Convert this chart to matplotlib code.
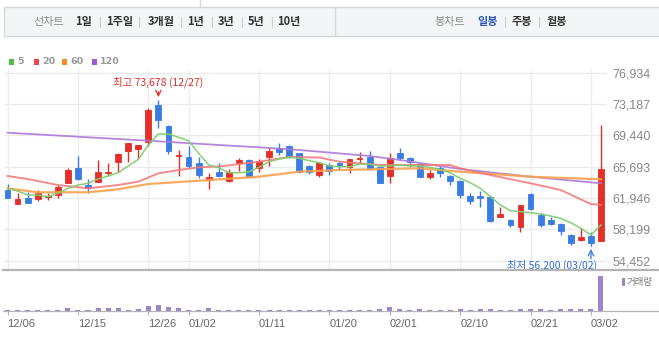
import matplotlib.pyplot as plt
from matplotlib.lines import Line2D
from matplotlib.patches import Rectangle

W, H = 659, 344

plt.rcParams.update({
    "font.family": ["Noto Sans CJK KR", "DejaVu Sans"],
    "axes.linewidth": 0,
})

RED = "#e22f27"
BLUE = "#3a7de0"
GRID = "#ececec"
MA_COLORS = {"5": "#7fcd70", "20": "#f27878", "60": "#f7a250", "120": "#ad7ad9"}
LEGEND_COLORS = {"5": "#4cbf45", "20": "#ea4848", "60": "#f28a1e", "120": "#9d5bd2"}
VOL_COLOR = "#9b86cc"

tick_idx = [0, 7, 14, 18, 25, 32, 38, 45, 52, 58]
tick_labels = ["12/06", "12/15", "12/26", "01/02", "01/11", "01/20",
               "02/01", "02/10", "02/21", "03/02"]
price_ticks = [54452, 58199, 61946, 65693, 69440, 73187, 76934]

opens = [62916, 61290, 61996, 61840, 62070, 62317, 63790, 65505, 63514, 63908,
         65000, 66225, 67577, 67816, 68688, 73074, 70564, 67000, 66823, 66107,
         64111, 65107, 64027, 66104, 66502, 65505, 66900, 67900, 68175, 67300,
         65784, 64708, 65900, 66180, 65700, 66620, 66900, 65628, 64590, 67380,
         66780, 66023, 64433, 65510, 64590, 64027, 62200, 62200, 62118, 59728,
         59331, 58530, 62437, 59927, 59331, 58853, 57540, 56941, 57420, 56860]
highs = [63598, 62600, 62714, 62916, 62590, 63514, 65505, 66980, 64230, 66502,
         66200, 67300, 68497, 68294, 72680, 73678, 70683, 67697, 68175, 66900,
         64900, 66180, 65390, 66700, 66580, 66580, 67900, 68497, 68294, 67380,
         65900, 66230, 66100, 66260, 66580, 67500, 67617, 65700, 67300, 67900,
         66900, 66100, 65306, 65784, 64710, 64111, 62590, 62836, 62317, 60920,
         59410, 61120, 62520, 60130, 59730, 59012, 57660, 58340, 57930, 70672]
lows = [61920, 61290, 61320, 61636, 61720, 61996, 63720, 64110, 62520, 63908,
        64590, 65100, 66300, 66585, 68175, 70290, 67218, 64625, 65505, 64316,
        62996, 64510, 63870, 65180, 64440, 65100, 65784, 67100, 66700, 64900,
        64790, 64510, 64708, 65306, 64900, 66100, 65306, 63720, 63790, 66500,
        65628, 64433, 64190, 64500, 63514, 61920, 61290, 60920, 59130, 59650,
        58530, 57930, 60526, 58530, 58733, 57540, 56340, 56860, 56200, 56860]
closes = [61996, 61845, 61398, 62520, 62190, 63237, 65306, 64230, 63114, 65067,
          65050, 67180, 68497, 68294, 72476, 71281, 67612, 67080, 65784, 64708,
          64430, 64590, 65027, 66502, 64510, 66420, 67618, 67492, 66823, 65107,
          65107, 66107, 65186, 65784, 66580, 66780, 65390, 63790, 66700, 66700,
          66300, 64433, 64910, 64910, 64027, 62317, 61636, 61920, 59250, 60000,
          58733, 61120, 60610, 58733, 58853, 58056, 56540, 57340, 56540, 65386]
volumes = [120, 120, 120, 120, 120, 120, 240, 120, 120, 240,
           240, 240, 120, 200, 400, 480, 320, 240, 120, 120,
           240, 120, 120, 120, 120, 120, 120, 120, 120, 120,
           120, 120, 120, 120, 120, 120, 120, 200, 320, 200,
           120, 200, 120, 120, 120, 200, 120, 200, 200, 120,
           120, 200, 200, 200, 120, 200, 200, 200, 200, 2800]

ma5 = [63120, 62797, 62319, 62319, 62116, 62522, 63120, 63514, 63717, 64231,
       64590, 64984, 65785, 66585, 68294, 69609, 69609, 69214, 68808, 67302,
       65904, 65581, 64984, 64984, 65103, 65629, 66298, 66621, 66824, 66705,
       66418, 66179, 65785, 65701, 65701, 66024, 66024, 65785, 65785, 65904,
       65785, 65785, 65629, 65390, 64984, 64315, 63789, 63120, 62116, 61124,
       60443, 60324, 60204, 60049, 59810, 59535, 59009, 58340, 57539, 58734]
ma20_idx = [0, 2, 5, 8, 11, 13, 15, 17, 19, 21, 25, 28, 31, 33, 37, 41, 44, 45,
            48, 52, 55, 58, 59]
ma20 = [64590, 64231, 63514, 63120, 63514, 63908, 64912, 65307, 65629, 65725,
        66298, 66860, 66800, 66298, 65904, 65904, 65904, 65510, 64709, 63717,
        62916, 61244, 61124]
ma60_idx = [0, 3, 8, 11, 14, 19, 25, 29, 33, 41, 45, 52, 59]
ma60 = [63120, 62642, 62642, 63000, 63634, 64028, 64506, 65103, 65307, 65510,
        65103, 64506, 64195]
ma120_idx = [0, 7, 14, 21, 25, 29, 36, 39, 45, 52, 59]
ma120 = [69764, 69286, 68808, 68294, 68019, 67697, 66980, 66502, 65426, 64506,
         63717]


def fx(x):
    return x / W


def fy(y):
    return 1 - y / H


fig = plt.figure(figsize=(W / 100, H / 100), dpi=100)

# header bar
fig.add_artist(Rectangle((fx(4), fy(36)), fx(W - 3.5), (36 - 7) / H,
                         transform=fig.transFigure, facecolor="#f4f5f7",
                         edgecolor="#d6d8db", linewidth=1))
fig.add_artist(Line2D([fx(335), fx(335)], [fy(8), fy(36)], color="#d6d8db", lw=1))
fig.add_artist(Line2D([fx(200), fx(200)], [fy(0), fy(7)], color="#d6d8db", lw=1))

header_left = [("선차트", 49, "#8a8a8a", "normal"), ("1일", 84, "#333333", "bold"),
               ("1주일", 120, "#333333", "bold"), ("3개월", 161, "#333333", "bold"),
               ("1년", 196, "#333333", "bold"), ("3년", 226, "#333333", "bold"),
               ("5년", 256, "#333333", "bold"), ("10년", 289, "#333333", "bold")]
header_right = [("봉차트", 450, "#8a8a8a", "normal"), ("일봉", 488, "#2e58b8", "bold"),
                ("주봉", 522, "#333333", "bold"), ("월봉", 557, "#333333", "bold")]
for label, x, color, weight in header_left + header_right:
    fig.text(fx(x), fy(22), label, ha="center", va="center", fontsize=8,
             color=color, fontweight=weight)
for x in [100, 139, 181, 212, 242, 272, 505, 539]:
    fig.add_artist(Line2D([fx(x), fx(x)], [fy(17), fy(27)], color="#d0d0d0", lw=0.8))

# MA legend
legend_x = {"5": 9, "20": 34, "60": 62, "120": 92}
for name, x in legend_x.items():
    fig.add_artist(Rectangle((fx(x), fy(64.5)), 5 / W, 5 / H, transform=fig.transFigure,
                             facecolor=LEGEND_COLORS[name], edgecolor="none"))
    fig.text(fx(x + 8), fy(62), name, ha="left", va="center", fontsize=6.8,
             color="#999999", fontweight="bold", family="DejaVu Sans")

# price pane
ax = fig.add_axes([fx(4), fy(270), fx(607 - 4), (270 - 70) / H])
ax.set_xlim(-0.35, 59.6)
ax.set_ylim(53357, 77257)
ax.set_xticks(tick_idx)
ax.set_yticks(price_ticks)
ax.set_yticklabels([f"{v:,}" for v in price_ticks], family="Liberation Sans",
                   fontsize=9, color="#888888")
ax.yaxis.tick_right()
ax.tick_params(axis="y", length=0, pad=4)
ax.tick_params(axis="x", length=0, labelbottom=False)
ax.grid(True, color=GRID, linewidth=1)
ax.set_axisbelow(True)

for i, (o, h, l, c) in enumerate(zip(opens, highs, lows, closes)):
    color = RED if c >= o else BLUE
    ax.vlines(i, l, h, color=color, linewidth=1, zorder=2)
    ax.bar(i, abs(c - o), bottom=min(o, c), width=0.58, color=color,
           edgecolor=color, linewidth=0.6, zorder=3)

ax.plot(ma120_idx, ma120, color=MA_COLORS["120"], lw=1.3, alpha=0.9, zorder=4)
ax.plot(ma60_idx, ma60, color=MA_COLORS["60"], lw=1.6, alpha=0.9, zorder=4)
ax.plot(ma20_idx, ma20, color=MA_COLORS["20"], lw=1.4, alpha=0.85, zorder=4)
ax.plot(range(len(ma5)), ma5, color=MA_COLORS["5"], lw=1.1, alpha=0.95, zorder=5)

hi = highs.index(max(highs[:59]))
lo = lows.index(min(lows))
ax.annotate("", xy=(hi, highs[hi]), xytext=(0, 6), textcoords="offset points",
            xycoords="data", arrowprops=dict(arrowstyle="->", color=RED, lw=0.9,
                                             shrinkA=0, shrinkB=2))
ax.annotate(f"최고 {highs[hi]:,} (12/27)", xy=(hi, highs[hi]), xytext=(0, 12.5),
            textcoords="offset points", ha="center", va="center",
            fontsize=7.5, color=RED)
ax.annotate("", xy=(lo, lows[lo]), xytext=(0, -9), textcoords="offset points",
            arrowprops=dict(arrowstyle="->", color=BLUE, lw=0.9, shrinkA=0, shrinkB=2))
ax.annotate(f"최저 {lows[lo]:,} (03/02)", xy=(lo, lows[lo]), xytext=(4.5, -13.5),
            textcoords="offset points", ha="right", va="center",
            fontsize=7.5, color="#2f6fd6")

# volume pane
vax = fig.add_axes([fx(4), fy(311), fx(607 - 4), (311 - 272) / H])
vax.set_xlim(-0.35, 59.6)
vax.set_ylim(0, 3120)
vax.bar(range(len(volumes)), volumes, width=0.5, color=VOL_COLOR, zorder=3)
vax.set_yticks([])
vax.set_xticks(tick_idx)
vax.set_xticklabels(tick_labels, family="Liberation Sans", fontsize=8,
                    color="#666666", ha="left")
vax.tick_params(axis="x", direction="out", length=3, width=0.8, color="#b0b0b0",
                pad=3)
vax.patch.set_alpha(0)

fig.add_artist(Line2D([fx(3), fx(W)], [fy(270), fy(270)], color="#b4b4b4", lw=1.6))
fig.add_artist(Line2D([fx(3), fx(W)], [fy(311), fy(311)], color="#b4b4b4", lw=0.9))

fig.add_artist(Rectangle((fx(622), fy(286)), 3 / W, 8 / H, transform=fig.transFigure,
                         facecolor=VOL_COLOR, edgecolor="none"))
fig.text(fx(627), fy(282), "거래량", ha="left", va="center", fontsize=6.8,
         color="#777777")

fig.savefig("out.png", dpi=100)
